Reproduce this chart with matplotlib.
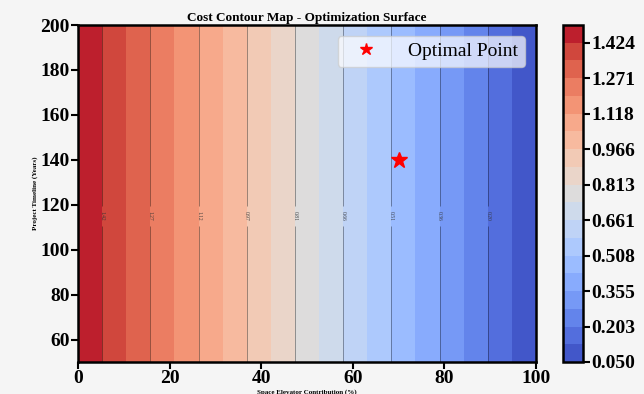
import matplotlib
matplotlib.use('Agg')
import matplotlib.pyplot as plt
import numpy as np

# Surface corners (cost only changes along x)
contribution = [0, 100]        # Space Elevator Contribution (%)
timeline = [50, 200]           # Project Timeline (Years)
cost_grid = [[1.50, 0.05],
             [1.50, 0.05]]

# Optimal point
opt_x = [70]
opt_y = [140]

plt.rcParams['font.family'] = ['Liberation Serif', 'DejaVu Serif']

fig = plt.figure(figsize=(6.44, 3.94), dpi=100, facecolor='#f5f5f5')
ax = fig.add_axes([78 / 644, 32 / 394, 458 / 644, 337 / 394])
cax = fig.add_axes([563 / 644, 32 / 394, 20 / 644, 337 / 394])

X, Y = np.meshgrid(contribution, timeline)
Z = np.array(cost_grid)

levels = np.linspace(Z.min(), Z.max(), 20)
cf = ax.contourf(X, Y, Z, levels=levels, cmap='coolwarm')
line_levels = levels[2:19:2]
cs = ax.contour(X, Y, Z, levels=line_levels, colors='black',
                linewidths=0.5, alpha=0.5)
# put the labels half way up each line
label_x = np.interp(line_levels, Z[0][::-1], contribution[::-1])
labels = ax.clabel(cs, inline=True, fontsize=4, fmt='%.2f', colors='#333333',
                   manual=[(lx, 115) for lx in label_x])
for t in labels:
    t.set_alpha(0.9)

# Optimal point
ax.plot(opt_x, opt_y, linestyle='none', marker='*', color='red',
        markersize=12, label='Optimal Point')
leg = ax.legend(loc='upper right', fontsize=14, framealpha=0.7,
                fancybox=True, borderpad=0.35, handletextpad=1.1,
                handlelength=2.2, markerscale=0.75, borderaxespad=0.55)

ax.set_xlim(0, 100)
ax.set_ylim(50, 200)
ax.set_xticks(np.arange(0, 101, 20))
ax.set_yticks(np.arange(60, 201, 20))
ax.set_title('Cost Contour Map - Optimization Surface', fontsize=9.5,
             fontweight='bold', pad=3)
ax.set_xlabel('Space Elevator Contribution (%)', fontsize=5,
              fontweight='bold', labelpad=1)
ax.set_ylabel('Project Timeline (Years)', fontsize=5, fontweight='bold',
              labelpad=2)

for a in (ax, cax):
    for s in a.spines.values():
        s.set_linewidth(1.8)
    a.tick_params(width=1.5, length=5, labelsize=14, pad=1)
    for lbl in a.get_xticklabels() + a.get_yticklabels():
        lbl.set_fontweight('bold')

cb = fig.colorbar(cf, cax=cax, ticks=levels[::2])
cb.ax.set_yticklabels(['%.3f' % v for v in levels[::2]])
cb.outline.set_linewidth(1.8)
cb.ax.tick_params(width=1.5, length=5, labelsize=14, pad=1)
for lbl in cb.ax.get_yticklabels():
    lbl.set_fontweight('bold')

fig.savefig('out.png', dpi=100, facecolor=fig.get_facecolor())
